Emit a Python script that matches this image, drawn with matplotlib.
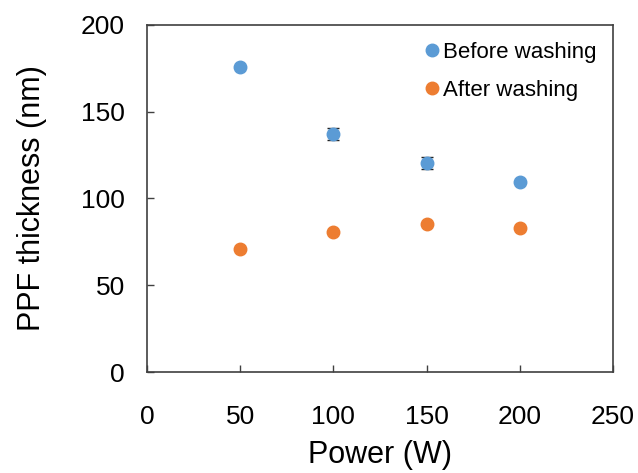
import matplotlib
matplotlib.use("Agg")
import matplotlib.pyplot as plt

plt.rcParams['font.family'] = ['Liberation Sans', 'DejaVu Sans']

power = [50, 100, 150, 200]
before = [176, 137, 120.5, 109.5]
before_err = [0, 3.5, 3.5, 0]
after = [71, 80.5, 85.5, 83]
after_err = [0, 0, 0, 0]

fig = plt.figure(figsize=(6.38, 4.73), dpi=100)
ax = fig.add_axes([147/638, 1-372/473, (613-147)/638, (372-25)/473])

ax.errorbar(power, before, yerr=before_err, fmt='o', color='#5B9BD5', ms=9,
            ecolor='#222222', elinewidth=1, capsize=4.5, label='Before washing', zorder=3)
ax.errorbar(power, after, yerr=after_err, fmt='o', color='#ED7D31', ms=9,
            ecolor='#222222', elinewidth=1, capsize=4.5, label='After washing', zorder=3)

ax.set_xlim(0, 250)
ax.set_ylim(0, 200)
ax.set_xticks([0, 50, 100, 150, 200, 250])
ax.set_yticks([0, 50, 100, 150, 200])
ax.tick_params(labelsize=19, direction='in', length=5, width=1, color='#404040')
ax.tick_params(axis='y', pad=16)
ax.tick_params(axis='x', pad=24)
ax.set_xlabel('Power (W)', fontsize=22, labelpad=8)
ax.set_ylabel('PPF thickness (nm)', fontsize=22, labelpad=24)
for s in ax.spines.values():
    s.set_linewidth(1.2)
    s.set_color('#404040')

handles, labels = ax.get_legend_handles_labels()
handles = [h[0] for h in handles]
ax.legend(handles, labels, loc='upper right', bbox_to_anchor=(605/638, 1-33/473),
          bbox_transform=fig.transFigure, frameon=False, fontsize=16,
          handletextpad=-0.5, markerscale=1.0, borderaxespad=0, labelspacing=0.75)

fig.savefig('out.png', dpi=100)
